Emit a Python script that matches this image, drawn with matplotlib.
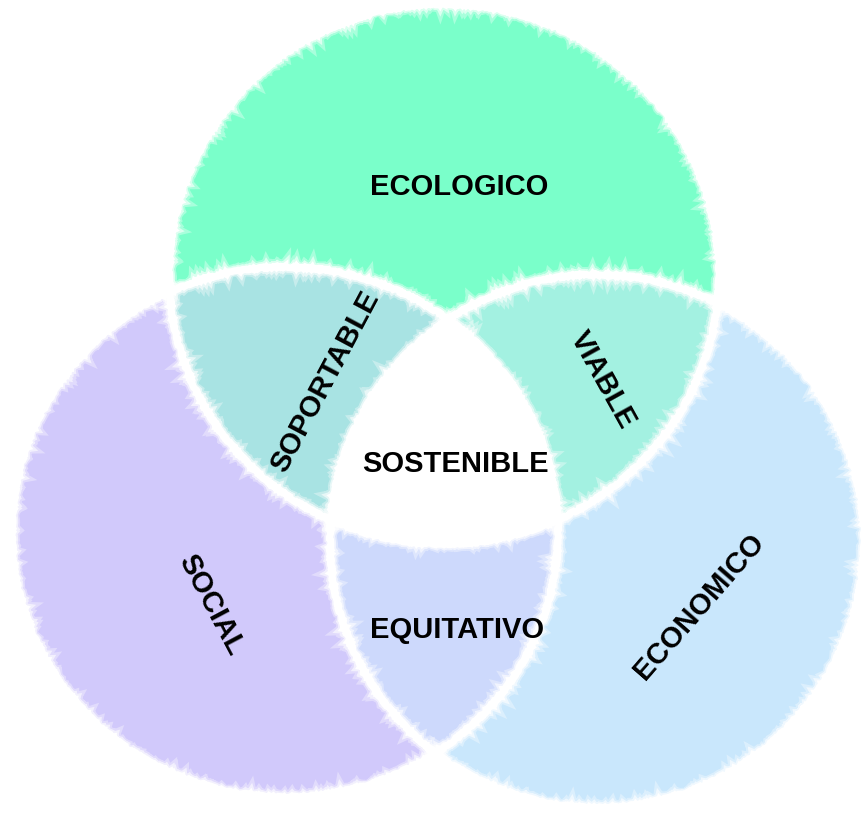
import numpy as np
import matplotlib.pyplot as plt
from matplotlib.patches import Ellipse, Polygon

# Canvas in pixels (figure drawn 1:1 at dpi 100)
W, H, DPI = 863, 814, 100

# The three sets: centre, size (px) and own colour
SET_NAMES = ["ECOLOGICO", "SOCIAL", "ECONOMICO"]
CENTER_X = [444, 285, 597]
CENTER_Y = [274, 532, 541]
WIDTHS = [550, 546, 534]
HEIGHTS = [540, 530, 533]
SOLO_COLORS = ["#7affca", "#d1c9fb", "#c9e7fc"]

# Pairwise overlaps and the triple core
PAIR_INDEX = [(0, 1), (0, 2), (1, 2)]
PAIR_NAMES = ["SOPORTABLE", "VIABLE", "EQUITATIVO"]
PAIR_COLORS = ["#a8e3e3", "#a3f1e1", "#cdd9fc"]
CORE_NAME = "SOSTENIBLE"
CORE_COLOR = "#ffffff"

# Label placement: name -> (x, y, rotation)
LABELS = {
    "ECOLOGICO": (459, 187, 0),
    "SOCIAL": (211, 605, -62),
    "ECONOMICO": (699, 607, 49),
    "SOPORTABLE": (325, 382, 62),
    "VIABLE": (603, 380, -61),
    "EQUITATIVO": (457, 630, 0),
    "SOSTENIBLE": (455, 464, 0),
}


def boundary(i, n=1440):
    t = np.linspace(0, 2 * np.pi, n, endpoint=False)
    return np.column_stack([CENTER_X[i] + WIDTHS[i] / 2 * np.cos(t),
                            CENTER_Y[i] + HEIGHTS[i] / 2 * np.sin(t)])


def inside(pts, i):
    return (((pts[:, 0] - CENTER_X[i]) / (WIDTHS[i] / 2)) ** 2
            + ((pts[:, 1] - CENTER_Y[i]) / (HEIGHTS[i] / 2)) ** 2) <= 1.0


def intersection(ids):
    # intersection of ellipses is convex: gather boundary points inside the others
    pts = []
    for i in ids:
        b = boundary(i)
        mask = np.all([inside(b, j) for j in ids if j != i], axis=0)
        pts.append(b[mask])
    pts = np.vstack(pts)
    c = pts.mean(axis=0)
    order = np.argsort(np.arctan2(pts[:, 1] - c[1], pts[:, 0] - c[0]))
    return pts[order]


def main():
    plt.rcParams["font.family"] = ["Liberation Sans", "DejaVu Sans"]
    fig = plt.figure(figsize=(W / DPI, H / DPI), dpi=DPI)
    ax = fig.add_axes([0, 0, 1, 1])
    ax.set_xlim(0, W)
    ax.set_ylim(H, 0)
    ax.set_aspect("equal")
    ax.axis("off")

    for i in range(3):
        ax.add_patch(Ellipse((CENTER_X[i], CENTER_Y[i]), WIDTHS[i], HEIGHTS[i],
                             facecolor=SOLO_COLORS[i], edgecolor="none", zorder=1))
    for ids, col in zip(PAIR_INDEX, PAIR_COLORS):
        ax.add_patch(Polygon(intersection(ids), closed=True, facecolor=col,
                             edgecolor="none", zorder=2))
    ax.add_patch(Polygon(intersection((0, 1, 2)), closed=True, facecolor=CORE_COLOR,
                         edgecolor="none", zorder=3))

    # soft, brushy white separators along every outline
    for i in range(3):
        for lw, alpha, sc in ((9, 0.35, 1.6), (7, 0.6, 1.2), (5, 1.0, 0.9)):
            e = Ellipse((CENTER_X[i], CENTER_Y[i]), WIDTHS[i], HEIGHTS[i],
                        facecolor="none", edgecolor="white", lw=lw, alpha=alpha, zorder=4)
            e.set_sketch_params(scale=sc, length=3, randomness=20)
            ax.add_patch(e)

    for name in SET_NAMES + PAIR_NAMES + [CORE_NAME]:
        x, y, rot = LABELS[name]
        ax.text(x, y, name, ha="center", va="center", rotation=rot,
                rotation_mode="anchor", fontsize=21, fontweight="bold",
                color="black", zorder=5)

    fig.savefig("out.png", dpi=DPI, facecolor="white")
    plt.close(fig)


if __name__ == "__main__":
    main()
